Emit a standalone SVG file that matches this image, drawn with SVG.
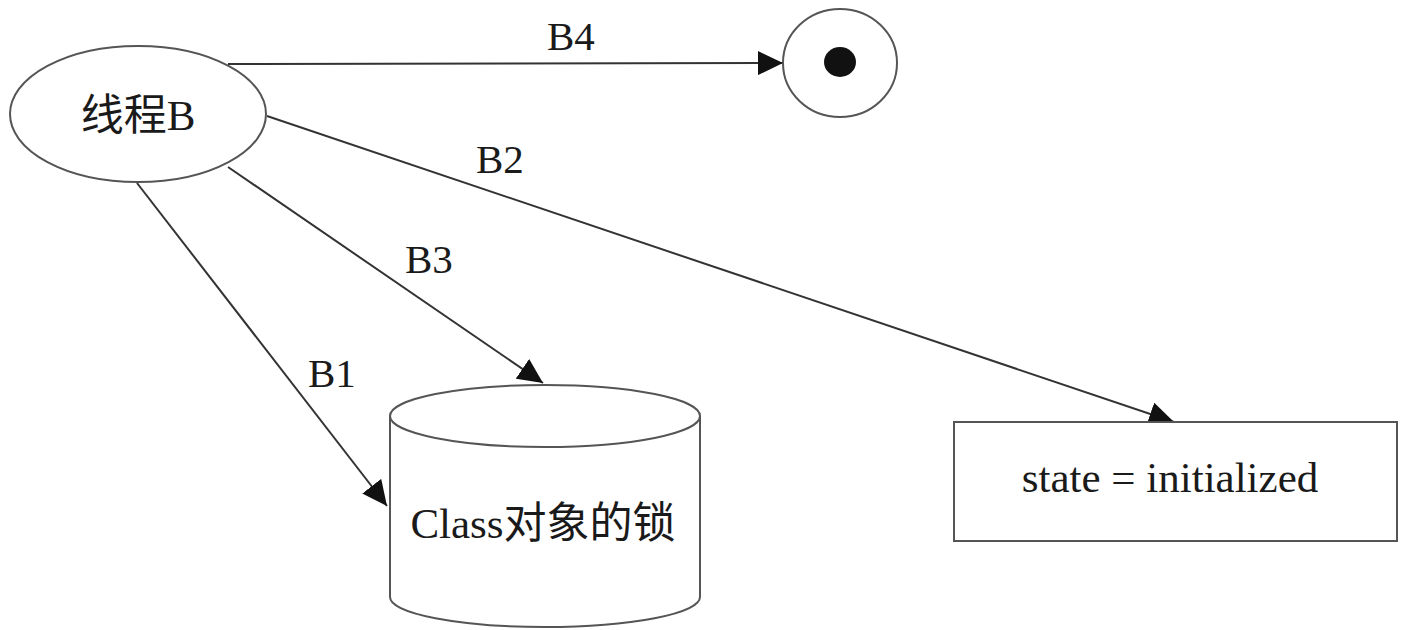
<svg xmlns="http://www.w3.org/2000/svg" width="1403" height="630" viewBox="0 0 1403 630">
<style>
.shape{fill:#fff;stroke:#555;stroke-width:2}
.edge{fill:none;stroke:#333;stroke-width:2}
.lbl{font-family:"Liberation Serif","Noto Sans CJK SC",serif;font-size:41px;fill:#1a1a1a}
.node{font-family:"Liberation Serif","Noto Sans CJK SC",serif;font-size:43px;fill:#1a1a1a;text-anchor:middle}
.lat{font-family:"Liberation Serif",serif}
</style>
<defs>
<marker id="arr" markerUnits="userSpaceOnUse" markerWidth="26" markerHeight="24" refX="25" refY="12" orient="auto" viewBox="0 0 26 24">
<path d="M0,0 L25,12 L0,24 Z" fill="#111"/>
</marker>
</defs>
<rect width="1403" height="630" fill="#fff"/>
<g id="connectors">
<line class="edge" x1="228" y1="64" x2="783" y2="63" marker-end="url(#arr)"/>
<line class="edge" x1="267" y1="116" x2="1174" y2="422" marker-end="url(#arr)"/>
<line class="edge" x1="228" y1="167" x2="543" y2="383" marker-end="url(#arr)"/>
<line class="edge" x1="137" y1="183" x2="387" y2="506" marker-end="url(#arr)"/>
<text class="lbl" x="547" y="50">B4</text>
<text class="lbl" x="476" y="173">B2</text>
<text class="lbl" x="405" y="273">B3</text>
<text class="lbl" x="308" y="387">B1</text>
</g>
<g id="threadB">
<ellipse class="shape" cx="138" cy="114" rx="128" ry="68"/>
<text class="node" x="138" y="130">线程<tspan class="lat">B</tspan></text>
</g>
<g id="final">
<ellipse class="shape" cx="840" cy="63" rx="57" ry="54"/>
<ellipse cx="840" cy="62" rx="16" ry="15" fill="#111"/>
</g>
<g id="classLock">
<path class="shape" d="M390,416 L390,597 A155,30 0 0 0 700,597 L700,416"/>
<ellipse class="shape" cx="545" cy="416" rx="155" ry="31"/>
<text class="node" x="543" y="538"><tspan class="lat">Class</tspan>对象的锁</text>
</g>
<g id="state">
<rect class="shape" x="954" y="422" width="443" height="119"/>
<text class="node" x="1170" y="492" font-size="44">state = initialized</text>
</g>
</svg>
